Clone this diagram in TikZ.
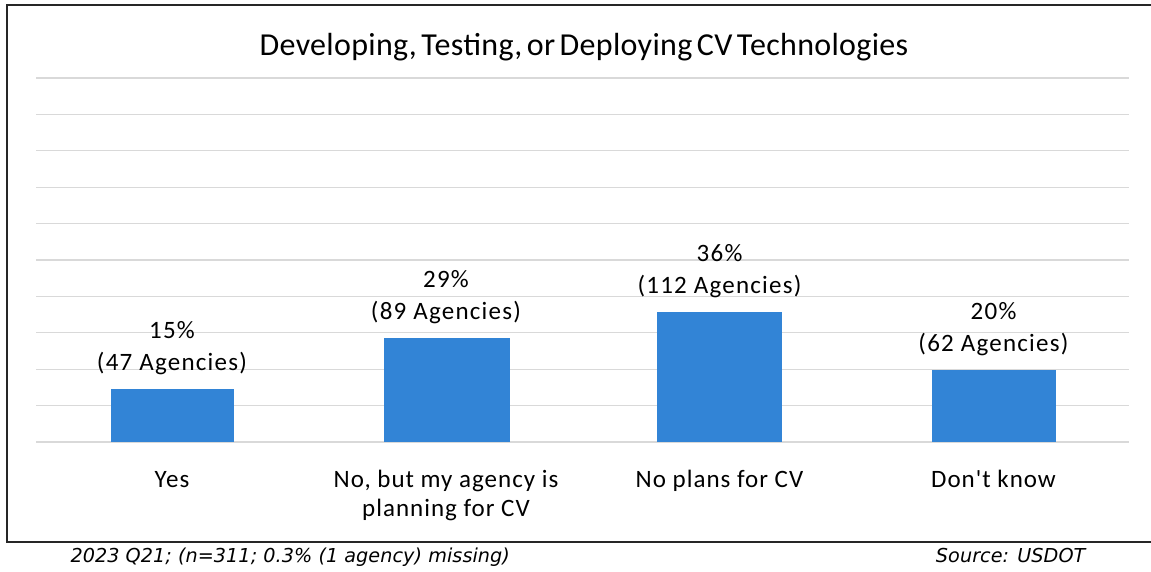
\documentclass[tikz,border=0pt]{standalone}
\usepackage{fontspec}
\setmainfont{Carlito}
% separate families keep the straight apostrophe and set the tracking
\newfontfamily\titlefont{Carlito}[LetterSpace=1,WordSpace=0.6]
\newfontfamily\valfont{Carlito}[LetterSpace=5]
\newfontfamily\catfont{Carlito}[LetterSpace=4]
\newfontfamily\notefont{DejaVu Sans}[LetterSpace=0.3]
\definecolor{barblue}{RGB}{50,132,214}
\definecolor{gridgray}{RGB}{217,217,217}
\tikzset{
  frame/.style={line width=1.6pt, black!85},
  gridline/.style={line width=1.2pt, gridgray},
  bar/.style={fill=barblue},
  titletext/.style={font=\titlefont\fontsize{32}{36}\selectfont, anchor=base},
  valtext/.style={font=\valfont\fontsize{25}{29}\selectfont, anchor=base},
  cattext/.style={font=\catfont\fontsize{25}{29}\selectfont, anchor=base},
  notetext/.style={font=\notefont\itshape\fontsize{19.2}{22}\selectfont, anchor=base}
}
\begin{document}
\begin{tikzpicture}[x=1pt, y=-1pt]
  \useasboundingbox (0,0) rectangle (1151,571);
  \fill[white] (0,0) rectangle (1151,571);
  % chart frame (open on the right)
  \draw[frame] (1151,5) -- (7,5) -- (7,542) -- (1151,542);
  % horizontal grid, 10% per step
  \foreach \k in {0,...,10}
    \draw[gridline] (36,{442-36.4*\k}) -- (1129,{442-36.4*\k});
  % bars
  \fill[bar] (110.5,389) rectangle (234,442);
  \fill[bar] (383.5,338) rectangle (509.5,442);
  \fill[bar] (657,312) rectangle (782,442);
  \fill[bar] (931.5,370) rectangle (1055.5,442);
  % title
  \node[titletext] (title) at (584,55) {Developing, Testing, or Deploying CV Technologies};
  % value labels
  \node[valtext] (v1a) at (172,338) {15\%};
  \node[valtext] (v1b) at (172,370) {(47 Agencies)};
  \node[valtext] (v2a) at (446,287) {29\%};
  \node[valtext] (v2b) at (446,319) {(89 Agencies)};
  \node[valtext] (v3a) at (719.5,261) {36\%};
  \node[valtext] (v3b) at (719.5,293) {(112 Agencies)};
  \node[valtext] (v4a) at (993.5,319) {20\%};
  \node[valtext] (v4b) at (993.5,351) {(62 Agencies)};
  % category labels
  \node[cattext] (c1) at (172,487) {Yes};
  \node[cattext] (c2a) at (446,487) {No, but my agency is};
  \node[cattext] (c2b) at (446,516) {planning for CV};
  \node[cattext] (c3) at (719.5,487) {No plans for CV};
  \node[cattext] (c4) at (993.5,487) {Don't know};
  % notes below the frame
  \node[notetext, anchor=base west] (n1) at (67,562) {2023 Q21; (n=311; 0.3\% (1 agency) missing)};
  \node[notetext, anchor=base east] (n2) at (1089,562) {Source: USDOT};
\end{tikzpicture}
\end{document}
